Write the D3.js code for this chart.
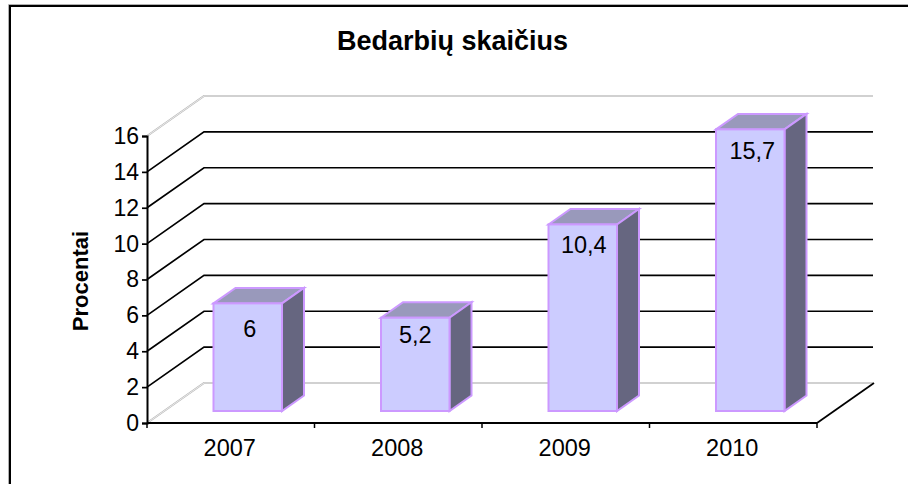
<!DOCTYPE html>
<html>
<head>
<meta charset="utf-8">
<script src="https://cdn.jsdelivr.net/npm/d3@7"></script>
<style>
    html, body { margin: 0; padding: 0; background: #fff; }
    text { font-family: "Liberation Sans", Arial, sans-serif; fill: #000; }
</style>
</head>
<body>
<div id="chart"></div>
<script>
// chart values
    var years = ["2007", "2008", "2009", "2010"];
    var unemployment = [6, 5.2, 10.4, 15.7];
    var valueLabels = ["6", "5,2", "10,4", "15,7"];
    var yTicks = [0, 2, 4, 6, 8, 10, 12, 14, 16];

// pseudo 3d box chart
    function makeChart(){
        var width = 908;
        var height = 484;

        var svg = d3.select("#chart")
                .append("svg")
                .attr("width", width)
                .attr("height", height)
                .style("display", "block");

        // frame, only top and left show in the picture
        svg.append("path")
            .attr("d", "M8.5,484V4.5H908")
            .attr("fill", "none")
            .attr("stroke", "#b0b0b0")
            .attr("stroke-width", 1);
        svg.append("path")
            .attr("d", "M10,484V6H908")
            .attr("fill", "none")
            .attr("stroke", "#000")
            .attr("stroke-width", 2);

        svg.append("text")
            .attr("x", 452.5).attr("y", 50)
            .attr("text-anchor", "middle")
            .attr("font-size", 27)
            .attr("font-weight", "bold")
            .text("Bedarbių skaičius");

        var x = d3.scaleBand()
                .domain(years)
                .range([147, 817]);
        var y = d3.scaleLinear()
                .domain([0, 16])
                .range([423, 136]);

        var wallDx = 57, wallDy = -40;
        var barDx = 22, barDy = -15.5;
        var floorGap = 12;
        var barLeft = 66.5, barWidth = 68.5;
        // label offsets from the box top and centre, read per bar
        var labelDrop = [34, 25, 29, 29.5];
        var labelShift = [2, 0, 1, 2];

        // gridlines, the first and last ones are light and double
        yTicks.forEach(function(t){
            var light = (t === 0 || t === 16);
            var pts = [
                [x.range()[0], y(t)],
                [x.range()[0] + wallDx, y(t) + wallDy],
                [x.range()[1] + wallDx - 1, y(t) + wallDy]
            ].join(" ");
            svg.append("polyline")
                .attr("points", pts)
                .attr("fill", "none")
                .attr("stroke", light ? "#b8b8b8" : "#000")
                .attr("stroke-width", light ? 2 : 1.7);
            if(light){
                svg.append("polyline")
                    .attr("points", pts)
                    .attr("fill", "none")
                    .attr("stroke", "#fff")
                    .attr("stroke-width", 0.7);
            }
        });

        // floor edge on the right
        svg.append("line")
            .attr("x1", x.range()[1]).attr("y1", y(0))
            .attr("x2", x.range()[1] + wallDx).attr("y2", y(0) + wallDy)
            .attr("stroke", "#000").attr("stroke-width", 1.7);

        // axes
        var yAxis = d3.axisLeft(y).tickValues(yTicks).tickSize(5).tickPadding(3).tickFormat(d3.format("d"));
        var gy = svg.append("g").attr("transform", "translate(147,0)").call(yAxis);
        gy.selectAll("text").attr("font-size", 23).attr("font-family", null);
        gy.select(".domain").attr("stroke-width", 2);
        gy.selectAll("line").attr("stroke-width", 1.7);

        var gx = svg.append("g").attr("transform", "translate(0,423)");
        gx.append("line")
            .attr("x1", x.range()[0]).attr("x2", x.range()[1])
            .attr("stroke", "#000").attr("stroke-width", 2);
        d3.range(years.length + 1).forEach(function(i){
            var tx = x.range()[0] + i * x.bandwidth();
            gx.append("line").attr("x1", tx).attr("x2", tx).attr("y1", 0).attr("y2", 5)
                .attr("stroke", "#000").attr("stroke-width", 1.5);
        });
        gx.selectAll("text.year")
            .data(years)
            .enter()
            .append("text")
            .attr("class", "year")
            .attr("x", function(d){ return x(d) + x.bandwidth()/2 - 1; })
            .attr("y", 33)
            .attr("text-anchor", "middle")
            .attr("font-size", 23.5)
            .text(function(d){ return d; });

        svg.append("text")
            .attr("transform", "translate(88,281) rotate(-90)")
            .attr("text-anchor", "middle")
            .attr("font-size", 22)
            .attr("font-weight", "bold")
            .text("Procentai");

        // boxes
        var stroke = "#cc99ff";
        var bars = svg.selectAll("g.bar")
                .data(years)
                .enter()
                .append("g")
                .attr("class", "bar");

        bars.each(function(d, i){
            var g = d3.select(this);
            var x0 = x(d) + barLeft;
            var x1 = x0 + barWidth;
            var yb = y(0) - floorGap;
            var yt = y(unemployment[i]) - floorGap;

            g.append("polygon")
                .attr("points", [[x0, yt], [x0 + barDx, yt + barDy], [x1 + barDx, yt + barDy], [x1, yt]].join(" "))
                .attr("fill", "#9999bb").attr("stroke", stroke).attr("stroke-width", 2);
            g.append("polygon")
                .attr("points", [[x1, yt], [x1 + barDx, yt + barDy], [x1 + barDx, yb + barDy], [x1, yb]].join(" "))
                .attr("fill", "#666680").attr("stroke", stroke).attr("stroke-width", 2);
            g.append("rect")
                .attr("x", x0).attr("y", yt)
                .attr("width", barWidth).attr("height", yb - yt)
                .attr("fill", "#ccccff").attr("stroke", stroke).attr("stroke-width", 2);
            g.append("text")
                .attr("x", x0 + barWidth/2 + labelShift[i])
                .attr("y", yt + labelDrop[i])
                .attr("text-anchor", "middle")
                .attr("font-size", 23.5)
                .text(valueLabels[i]);
        });
    }

    makeChart();
</script>
</body>
</html>
